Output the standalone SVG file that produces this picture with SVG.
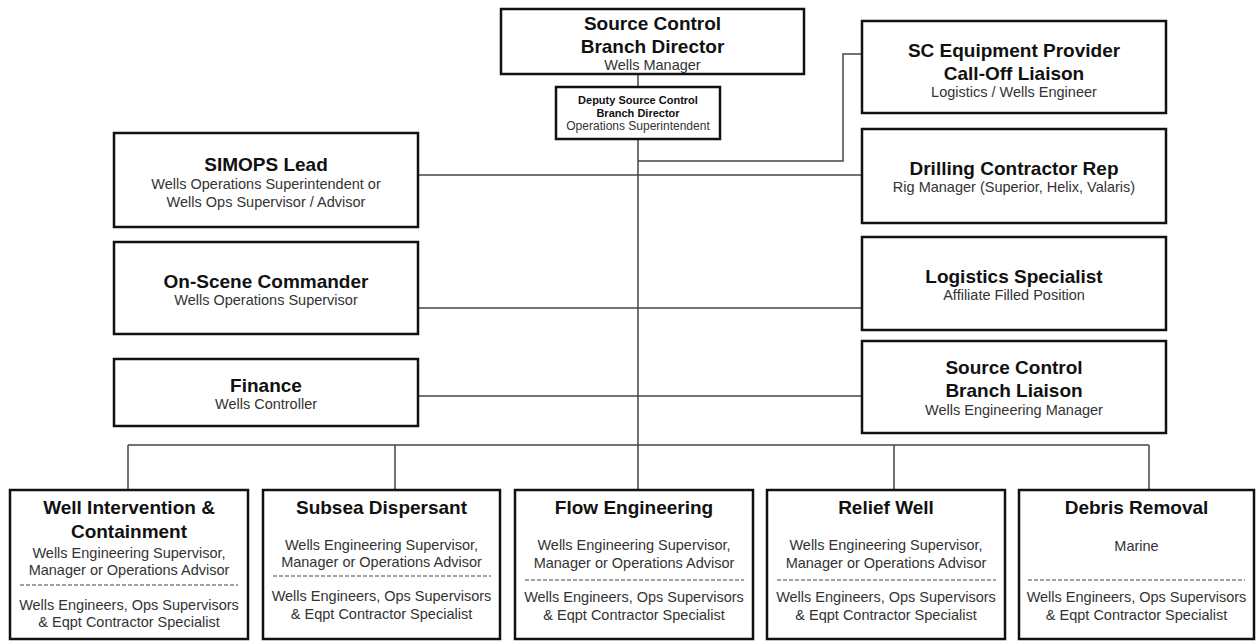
<svg xmlns="http://www.w3.org/2000/svg" width="1257" height="641" viewBox="0 0 1257 641">
<style>
.box{fill:#fff;stroke:#111;stroke-width:2.5}
.t{font-family:"Liberation Sans",Arial,sans-serif;font-weight:bold;font-size:19px;fill:#111;text-anchor:middle}
.s{font-family:"Liberation Sans",Arial,sans-serif;font-size:14.5px;fill:#333;text-anchor:middle}
.dt{font-family:"Liberation Sans",Arial,sans-serif;font-weight:bold;font-size:11px;fill:#111;text-anchor:middle}
.ds{font-family:"Liberation Sans",Arial,sans-serif;font-size:12px;fill:#333;text-anchor:middle}
.c{fill:none;stroke:#444;stroke-width:1.5}
.dash{stroke:#444;stroke-width:1;stroke-dasharray:4 2}
</style>
<rect width="1257" height="641" fill="#fff"/>
<g id="connectors">
<line class="c" x1="638" y1="74" x2="638" y2="87"/>
<line class="c" x1="638" y1="139" x2="638" y2="490"/>
<polyline class="c" points="638,161 843,161 843,54 862,54"/>
<line class="c" x1="418" y1="175" x2="862" y2="175"/>
<line class="c" x1="418" y1="308" x2="862" y2="308"/>
<line class="c" x1="418" y1="396" x2="862" y2="396"/>
<line class="c" x1="128" y1="445" x2="1149" y2="445"/>
<line class="c" x1="128" y1="445" x2="128" y2="490"/>
<line class="c" x1="395" y1="445" x2="395" y2="490"/>
<line class="c" x1="894" y1="445" x2="894" y2="490"/>
<line class="c" x1="1149" y1="445" x2="1149" y2="490"/>
</g>
<g id="branch-director">
<rect class="box" x="501" y="9" width="303" height="65"/>
<text class="t" x="652.5" y="30">Source Control</text>
<text class="t" x="652.5" y="53">Branch Director</text>
<text class="s" x="652.5" y="70">Wells Manager</text>
</g>
<g id="deputy">
<rect class="box" x="556" y="87" width="164" height="52"/>
<text class="dt" x="638" y="104">Deputy Source Control</text>
<text class="dt" x="638" y="117">Branch Director</text>
<text class="ds" x="638" y="130">Operations Superintendent</text>
</g>
<g id="sc-equipment">
<rect class="box" x="862" y="21" width="304" height="92"/>
<text class="t" x="1014" y="57">SC Equipment Provider</text>
<text class="t" x="1014" y="80">Call-Off Liaison</text>
<text class="s" x="1014" y="97">Logistics / Wells Engineer</text>
</g>
<g id="simops">
<rect class="box" x="114" y="133" width="304" height="94"/>
<text class="t" x="266" y="171">SIMOPS Lead</text>
<text class="s" x="266" y="189">Wells Operations Superintendent or</text>
<text class="s" x="266" y="207">Wells Ops Supervisor / Advisor</text>
</g>
<g id="drilling">
<rect class="box" x="862" y="129" width="304" height="94"/>
<text class="t" x="1014" y="175">Drilling Contractor Rep</text>
<text class="s" x="1014" y="192">Rig Manager (Superior, Helix, Valaris)</text>
</g>
<g id="on-scene">
<rect class="box" x="114" y="242" width="304" height="92"/>
<text class="t" x="266" y="288">On-Scene Commander</text>
<text class="s" x="266" y="305">Wells Operations Supervisor</text>
</g>
<g id="logistics">
<rect class="box" x="862" y="237" width="304" height="93"/>
<text class="t" x="1014" y="283">Logistics Specialist</text>
<text class="s" x="1014" y="300">Affiliate Filled Position</text>
</g>
<g id="finance">
<rect class="box" x="114" y="359" width="304" height="67"/>
<text class="t" x="266" y="392">Finance</text>
<text class="s" x="266" y="409">Wells Controller</text>
</g>
<g id="liaison">
<rect class="box" x="862" y="341" width="304" height="92"/>
<text class="t" x="1014" y="374">Source Control</text>
<text class="t" x="1014" y="397">Branch Liaison</text>
<text class="s" x="1014" y="415">Wells Engineering Manager</text>
</g>
<g id="well-intervention">
<rect class="box" x="10" y="490" width="238" height="149"/>
<text class="t" x="129" y="514">Well Intervention &amp;</text>
<text class="t" x="129" y="538">Containment</text>
<text class="s" x="129" y="558">Wells Engineering Supervisor,</text>
<text class="s" x="129" y="575">Manager or Operations Advisor</text>
<line class="dash" x1="20" y1="585" x2="238" y2="585"/>
<text class="s" x="129" y="610">Wells Engineers, Ops Supervisors</text>
<text class="s" x="129" y="627">&amp; Eqpt Contractor Specialist</text>
</g>
<g id="subsea">
<rect class="box" x="263" y="490" width="237" height="149"/>
<text class="t" x="381.5" y="514">Subsea Dispersant</text>
<text class="s" x="381.5" y="550">Wells Engineering Supervisor,</text>
<text class="s" x="381.5" y="567">Manager or Operations Advisor</text>
<line class="dash" x1="273" y1="576" x2="491" y2="576"/>
<text class="s" x="381.5" y="601">Wells Engineers, Ops Supervisors</text>
<text class="s" x="381.5" y="619">&amp; Eqpt Contractor Specialist</text>
</g>
<g id="flow">
<rect class="box" x="515" y="490" width="238" height="149"/>
<text class="t" x="634" y="514">Flow Engineering</text>
<text class="s" x="634" y="550">Wells Engineering Supervisor,</text>
<text class="s" x="634" y="568">Manager or Operations Advisor</text>
<line class="dash" x1="525" y1="580" x2="744" y2="580"/>
<text class="s" x="634" y="602">Wells Engineers, Ops Supervisors</text>
<text class="s" x="634" y="620">&amp; Eqpt Contractor Specialist</text>
</g>
<g id="relief">
<rect class="box" x="767" y="490" width="238" height="149"/>
<text class="t" x="886" y="514">Relief Well</text>
<text class="s" x="886" y="550">Wells Engineering Supervisor,</text>
<text class="s" x="886" y="568">Manager or Operations Advisor</text>
<line class="dash" x1="777" y1="580" x2="996" y2="580"/>
<text class="s" x="886" y="602">Wells Engineers, Ops Supervisors</text>
<text class="s" x="886" y="620">&amp; Eqpt Contractor Specialist</text>
</g>
<g id="debris">
<rect class="box" x="1019" y="490" width="235" height="149"/>
<text class="t" x="1136.5" y="514">Debris Removal</text>
<text class="s" x="1136.5" y="551">Marine</text>
<line class="dash" x1="1028" y1="580" x2="1245" y2="580"/>
<text class="s" x="1136.5" y="602">Wells Engineers, Ops Supervisors</text>
<text class="s" x="1136.5" y="620">&amp; Eqpt Contractor Specialist</text>
</g>
</svg>
